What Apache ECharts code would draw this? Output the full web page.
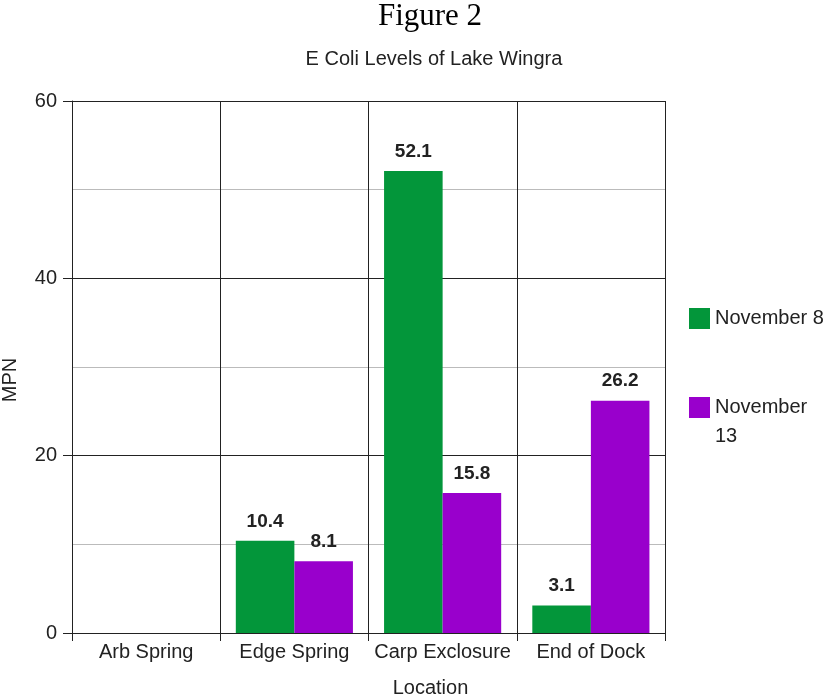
<!DOCTYPE html>
<html>
<head>
<meta charset="utf-8">
<script src="https://cdn.jsdelivr.net/npm/echarts@6/dist/echarts.min.js"></script>
<style>
html,body{margin:0;padding:0;background:#fff}
#chart{width:828px;height:696px}
</style>
</head>
<body>
<div id="chart"></div>
<script>
// values
var locations = ['Arb Spring', 'Edge Spring', 'Carp Exclosure', 'End of Dock'];
var nov8 = [null, 10.4, 52.1, 3.1];
var nov13 = [null, 8.1, 15.8, 26.2];
var seriesNames = ['November 8', 'November 13'];
var yTicks = [0, 20, 40, 60];

var font = 'Liberation Sans, Arial, sans-serif';
var green = '#03963a', purple = '#9900cc';

var chart = echarts.init(document.getElementById('chart'));

function barSeries(name, data, color){
	return {
		name: name,
		type: 'bar',
		data: data,
		barGap: '0%',
		barCategoryGap: '21%',
		itemStyle: {color: color},
		label: {
			show: true,
			position: 'top',
			distance: 10,
			fontFamily: font,
			fontSize: 19,
			fontWeight: 'bold',
			color: '#222'
		}
	};
}

var option = {
	animation: false,
	backgroundColor: '#fff',
	title: [
		{
			text: 'Figure 2',
			left: 430, top: 1, padding: 0,
			textAlign: 'center',
			textStyle: {fontFamily: 'Liberation Serif, Times New Roman, serif', fontSize: 31, fontWeight: 'normal', color: '#000'}
		},
		{
			text: 'E Coli Levels of Lake Wingra',
			left: 434, top: 49, padding: 0,
			textAlign: 'center',
			textStyle: {fontFamily: font, fontSize: 20, fontWeight: 'normal', color: '#222'}
		}
	],
	legend: {
		orient: 'vertical',
		left: 684, top: 303,
		itemWidth: 21, itemHeight: 21,
		itemGap: 35,
		icon: 'rect',
		textStyle: {fontFamily: font, fontSize: 20, color: '#222'},
		formatter: function(name){
			// second entry wraps, first line level with the swatch
			return name == 'November 13' ? '\nNovember\n13' : name;
		},
		data: [
			{name: seriesNames[0]},
			{name: seriesNames[1], textStyle: {lineHeight: 29}}
		]
	},
	grid: {left: 72, right: 163, top: 101, bottom: 63, outerBoundsMode: 'none'},
	xAxis: {
		type: 'category',
		data: locations,
		boundaryGap: true,
		name: 'Location',
		nameLocation: 'middle',
		nameGap: 45,
		nameTextStyle: {fontFamily: font, fontSize: 20, color: '#222', padding: [0, 0, 0, 124]},
		axisLine: {lineStyle: {color: '#222', width: 1}},
		axisTick: {show: true, length: 8, interval: 0, lineStyle: {color: '#222'}},
		axisLabel: {fontFamily: font, fontSize: 20, color: '#222', margin: 9, interval: 0},
		splitLine: {show: true, interval: 0, lineStyle: {color: '#222', width: 1}}
	},
	yAxis: {
		type: 'value',
		min: yTicks[0],
		max: yTicks[yTicks.length - 1],
		interval: 20,
		name: 'MPN',
		nameLocation: 'middle',
		nameGap: 52,
		nameTextStyle: {fontFamily: font, fontSize: 20, color: '#222', padding: [0, 26, 0, 0]},
		axisLine: {show: true, lineStyle: {color: '#222', width: 1}},
		axisTick: {show: true, length: 9, lineStyle: {color: '#222'}},
		axisLabel: {fontFamily: font, fontSize: 20, color: '#222', margin: 15},
		splitLine: {show: true, lineStyle: {color: '#222', width: 1}},
		minorTick: {show: false, splitNumber: 2},
		minorSplitLine: {show: true, lineStyle: {color: '#bbb', width: 1}}
	},
	series: [
		barSeries(seriesNames[0], nov8, green),
		barSeries(seriesNames[1], nov13, purple)
	]
};
chart.setOption(option);
</script>
</body>
</html>
